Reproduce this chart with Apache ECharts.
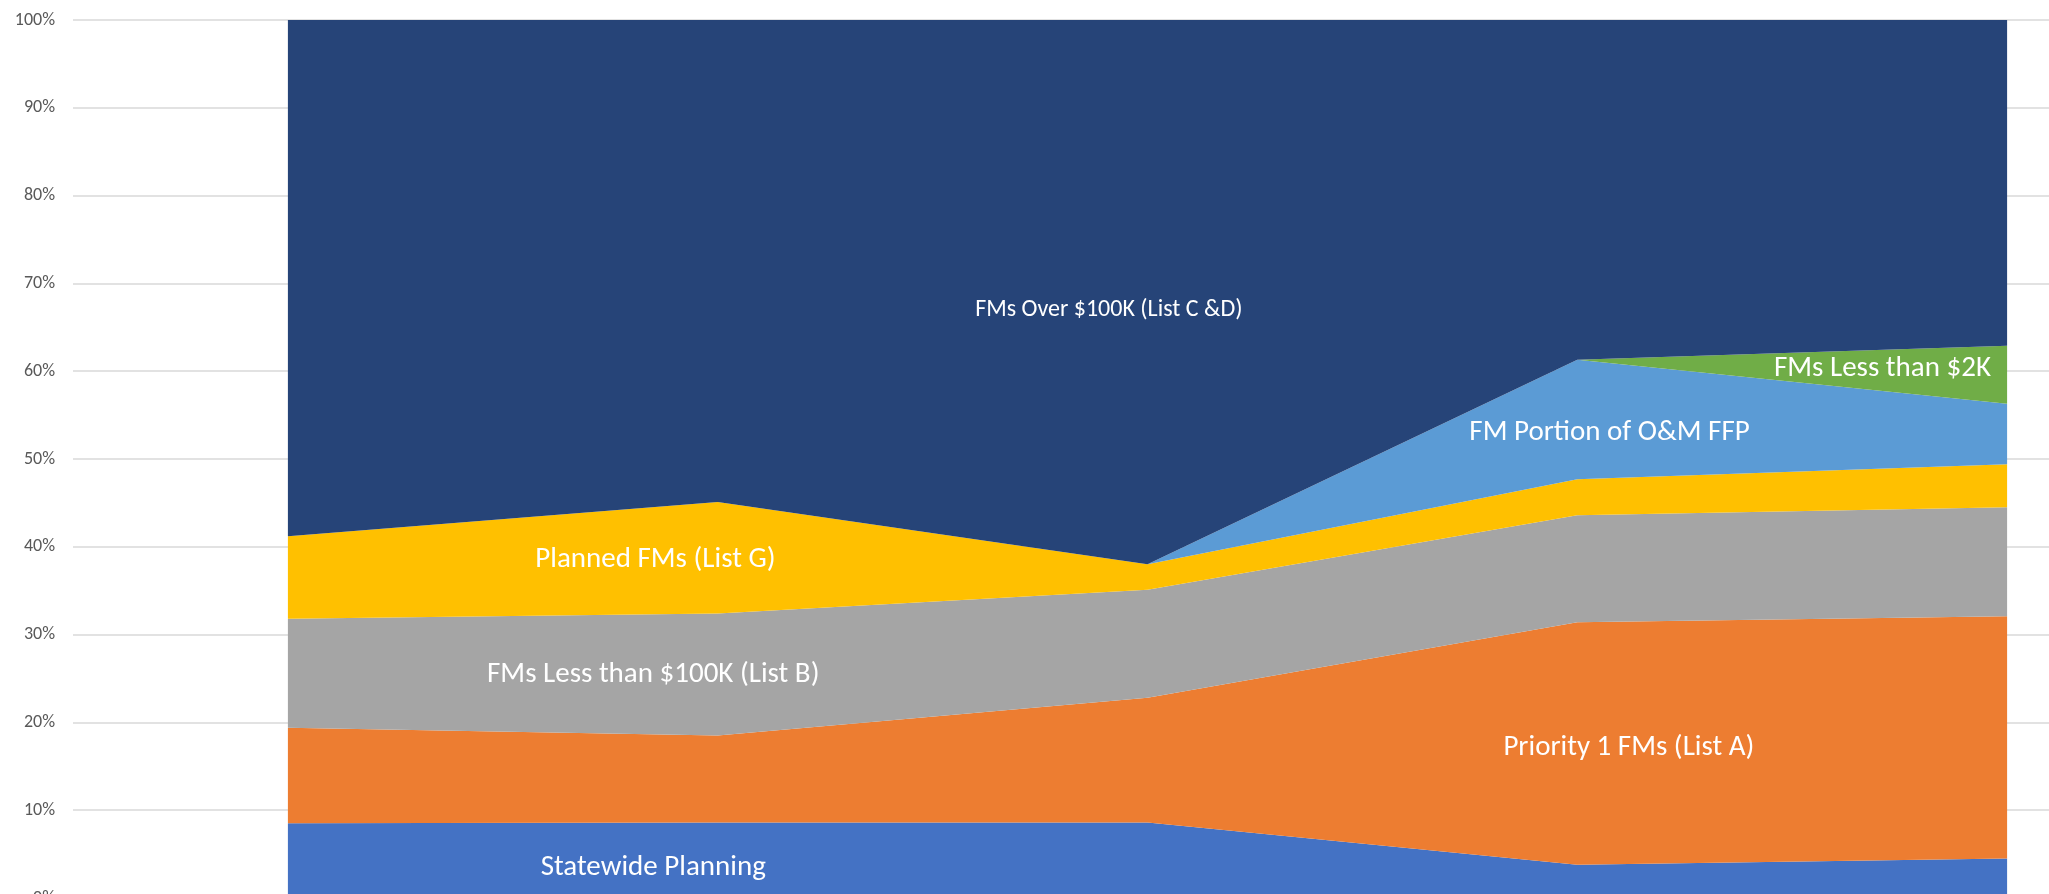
<!DOCTYPE html>
<html>
<head>
<meta charset="utf-8">
<style>
  html, body { margin: 0; padding: 0; background: #ffffff; overflow: hidden; width: 2049px; height: 894px; }
  #chart { width: 2300px; height: 1000px; }
</style>
<script src="https://cdn.jsdelivr.net/npm/echarts@6/dist/echarts.min.js"></script>
</head>
<body>
<div id="chart"></div>
<script>
// ---- data (percent of total) ----
const categories = ['Period 1', 'Period 2', 'Period 3', 'Period 4', 'Period 5'];
const statewidePlanning = [8.5, 8.6, 8.6, 3.8, 4.5];
const priority1ListA    = [10.9, 9.9, 14.2, 27.6, 27.6];
const lessThan100kListB = [12.4, 13.9, 12.3, 12.2, 12.4];
const plannedListG      = [9.4, 12.7, 2.9, 4.1, 4.9];
const omFfpPortion      = [0, 0, 0, 13.6, 6.9];
const lessThan2k        = [0, 0, 0, 0, 6.6];
const over100kListCD    = [58.8, 54.9, 62.0, 38.7, 37.1];
const yTicks = [0, 10, 20, 30, 40, 50, 60, 70, 80, 90, 100];

const seriesNames = [
  'Statewide Planning',
  'Priority 1 FMs (List A)',
  'FMs Less than $100K (List B)',
  'Planned FMs (List G)',
  'FM Portion of O&M FFP',
  'FMs Less than $2K',
  'FMs Over $100K (List C &D)'
];
const seriesData = [statewidePlanning, priority1ListA, lessThan100kListB, plannedListG, omFfpPortion, lessThan2k, over100kListCD];
const colors = ['#4472C4', '#ED7D31', '#A5A5A5', '#FFC000', '#5B9BD5', '#70AD47', '#264478'];

// label anchors in data units: [category position (fractional index), percent]
const labelAnchors = [
  { text: 'Statewide Planning',           at: [0.85, 3.5],  size: 29 },
  { text: 'Priority 1 FMs (List A)',      at: [3.12, 17.1], size: 29 },
  { text: 'FMs Less than $100K (List B)', at: [0.85, 25.4], size: 29 },
  { text: 'Planned FMs (List G)',         at: [0.855, 38.5], size: 29 },
  { text: 'FM Portion of O&M FFP',        at: [3.075, 53.0], size: 29 },
  { text: 'FMs Less than $2K',            at: [3.71, 60.25], size: 29 },
  { text: 'FMs Over $100K (List C &D)',   at: [1.91, 67.0], size: 24 }
];

const FONT = 'Calibri, Carlito, Lato, sans-serif';

const chart = echarts.init(document.getElementById('chart'), null, { renderer: 'canvas' });

const option = {
  backgroundColor: '#ffffff',
  animation: false,
  grid: { left: 73, top: 20, width: 2149, height: 878, containLabel: false },
  xAxis: {
    type: 'category',
    data: categories,
    boundaryGap: true,
    axisLine: { show: false },
    axisTick: { show: false },
    axisLabel: { show: false },
    splitLine: { show: false }
  },
  yAxis: {
    type: 'value',
    min: 0,
    max: 100,
    interval: 10,
    axisLine: { show: false },
    axisTick: { show: false },
    axisLabel: {
      margin: 18,
      color: '#595959',
      fontSize: 18,
      fontFamily: FONT,
      formatter: function (v) { return yTicks.indexOf(v) >= 0 ? v + '%' : ''; }
    },
    splitLine: { show: true, lineStyle: { color: '#D9D9D9', width: 1.5 } }
  },
  series: seriesNames.map(function (name, i) {
    return {
      name: name,
      type: 'line',
      stack: 'total',
      data: seriesData[i],
      symbol: 'none',
      smooth: false,
      lineStyle: { width: 0, color: colors[i] },
      itemStyle: { color: colors[i] },
      areaStyle: { color: colors[i], opacity: 1 },
      z: 2
    };
  })
};
chart.setOption(option);

function anchorToPixel(a) {
  const i0 = Math.floor(a[0]);
  const i1 = Math.min(i0 + 1, categories.length - 1);
  const p0 = chart.convertToPixel({ gridIndex: 0 }, [i0, a[1]]);
  const p1 = chart.convertToPixel({ gridIndex: 0 }, [i1, a[1]]);
  const f = a[0] - i0;
  return [p0[0] + (p1[0] - p0[0]) * f, p0[1]];
}

chart.setOption({
  graphic: labelAnchors.map(function (l) {
    const p = anchorToPixel(l.at);
    return {
      type: 'text',
      x: p[0],
      y: p[1],
      z: 100,
      style: {
        text: l.text,
        fill: '#ffffff',
        font: l.size + 'px ' + FONT,
        textAlign: 'center',
        textVerticalAlign: 'middle'
      }
    };
  })
});
</script>
</body>
</html>
